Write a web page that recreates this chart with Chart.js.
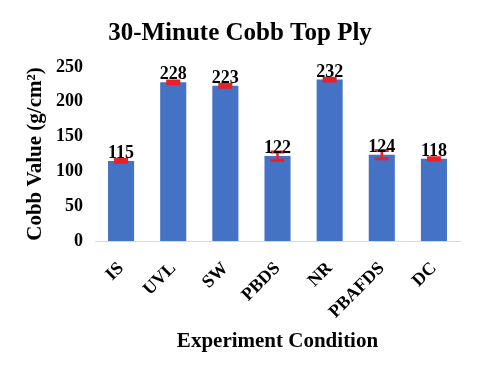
<!DOCTYPE html>
<html>
<head>
<meta charset="utf-8">
<script src="https://cdn.jsdelivr.net/npm/chart.js@4"></script>
<style>
html,body{margin:0;padding:0;background:#fff;}
#wrap{width:487px;height:365px;position:relative;}
</style>
</head>
<body>
<div id="wrap"><canvas id="c" width="487" height="365"></canvas></div>
<script>
const categories = ["IS", "UVL", "SW", "PBDS", "NR", "PBAFDS", "DC"];
const cobbValues = [115, 228, 223, 122, 232, 124, 118];
const errorValues = [2, 2, 2, 6, 2, 6, 1.5];
const yTicks = [0, 50, 100, 150, 200, 250];

const SERIF = "'Liberation Serif', 'Times New Roman', serif";

const errorBars = {
  id: 'errorBars',
  afterDatasetsDraw(chart) {
    const ctx = chart.ctx;
    const meta = chart.getDatasetMeta(0);
    const ys = chart.scales.y;
    ctx.save();
    ctx.strokeStyle = '#E8202A';
    meta.data.forEach((bar, i) => {
      const x = bar.x;
      const yHi = ys.getPixelForValue(cobbValues[i] + errorValues[i]);
      const yLo = ys.getPixelForValue(cobbValues[i] - errorValues[i]);
      ctx.lineWidth = 2.5;
      ctx.beginPath(); ctx.moveTo(x, yHi); ctx.lineTo(x, yLo); ctx.stroke();
      ctx.lineWidth = 3;
      ctx.beginPath();
      ctx.moveTo(x - 7, yHi); ctx.lineTo(x + 7, yHi);
      ctx.moveTo(x - 7, yLo); ctx.lineTo(x + 7, yLo);
      ctx.stroke();
    });
    ctx.restore();
  }
};

const valueLabels = {
  id: 'valueLabels',
  afterDatasetsDraw(chart) {
    const ctx = chart.ctx;
    const meta = chart.getDatasetMeta(0);
    ctx.save();
    ctx.fillStyle = '#000';
    ctx.font = "bold 18px " + SERIF;
    ctx.textAlign = 'center';
    ctx.textBaseline = 'alphabetic';
    meta.data.forEach((bar, i) => {
      ctx.fillText(String(cobbValues[i]), bar.x, bar.y - 3);
    });
    ctx.restore();
  }
};

new Chart(document.getElementById('c'), {
  type: 'bar',
  data: {
    labels: categories,
    datasets: [{
      data: cobbValues,
      backgroundColor: '#4472C4',
      borderWidth: 0,
      categoryPercentage: 1.0,
      barPercentage: 0.5
    }]
  },
  options: {
    responsive: false,
    animation: false,
    devicePixelRatio: 1,
    layout: { padding: { left: 20, right: 27, top: 0, bottom: 0 } },
    plugins: {
      legend: { display: false },
      tooltip: { enabled: false },
      title: {
        display: true,
        text: '30-Minute Cobb Top Ply',
        color: '#000',
        font: { family: SERIF, size: 25, weight: 'bold' },
        padding: { top: 19, bottom: 18 }
      }
    },
    scales: {
      x: {
        grid: { display: false, drawTicks: false },
        border: { display: true, color: '#D9D9D9', width: 1 },
        ticks: {
          color: '#000',
          font: { family: SERIF, size: 18, weight: 'bold' },
          maxRotation: 45, minRotation: 45,
          padding: 17
        },
        title: {
          display: true,
          text: 'Experiment Condition',
          color: '#000',
          font: { family: SERIF, size: 21, weight: 'bold' },
          padding: { top: 0, bottom: 11 }
        },
        afterFit(scale) { scale.height = 124; }
      },
      y: {
        min: 0, max: 250,
        grid: { display: false, drawTicks: false },
        border: { display: false },
        afterBuildTicks(scale) { scale.ticks = yTicks.map(v => ({ value: v })); },
        ticks: {
          color: '#000',
          font: { family: SERIF, size: 18, weight: 'bold' },
          padding: 12
        },
        title: {
          display: true,
          text: 'Cobb Value (g/cm²)',
          color: '#000',
          font: { family: SERIF, size: 21, weight: 'bold' },
          padding: { top: 3, bottom: 0 }
        },
        afterFit(scale) { scale.width = 75; }
      }
    }
  },
  plugins: [errorBars, valueLabels]
});
</script>
</body>
</html>
